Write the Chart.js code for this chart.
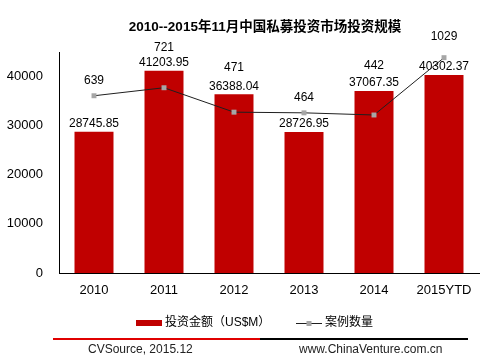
<!DOCTYPE html>
<html>
<head>
<meta charset="utf-8">
<script src="https://cdn.jsdelivr.net/npm/chart.js@4"></script>
<style>
  html, body { margin: 0; padding: 0; background: #fff; }
</style>
</head>
<body>
<canvas id="peChart" width="496" height="363"></canvas>
<script>
// data
const years = ['2010', '2011', '2012', '2013', '2014', '2015YTD'];
const amounts = [28745.85, 41203.95, 36388.04, 28726.95, 37067.35, 40302.37];
const dealCounts = [639, 721, 471, 464, 442, 1029];
const yTicks = [0, 10000, 20000, 30000, 40000];

// how far each count label sits above its marker (moved by hand in the original)
const countLift = [15, 40, 44, 15, 49, 21];

const FONT = '"Liberation Sans", Arial, "Noto Sans CJK SC", sans-serif';
Chart.defaults.font.family = FONT;
Chart.defaults.color = '#000';

const RED = '#C00000';
const LINE = '#1f1f1f';
const MARK = '#A6A6A6';

const extras = {
  id: 'extras',
  afterDatasetDraw(chart, args) {
    // bar values go under the line
    if (args.index !== 0) return;
    const ctx = chart.ctx;
    ctx.save();
    ctx.font = '12px ' + FONT;
    ctx.fillStyle = '#000';
    ctx.textAlign = 'center';
    ctx.textBaseline = 'middle';
    args.meta.data.forEach((bar, i) => {
      ctx.fillText(amounts[i].toFixed(2), bar.x, bar.y - 8);
    });
    ctx.restore();
  },
  afterDraw(chart) {
    const ctx = chart.ctx;
    ctx.save();
    ctx.textBaseline = 'middle';

    // count labels
    ctx.font = '12px ' + FONT;
    ctx.fillStyle = '#000';
    ctx.textAlign = 'center';
    chart.getDatasetMeta(1).data.forEach((pt, i) => {
      ctx.fillText(String(dealCounts[i]), pt.x, pt.y - countLift[i]);
    });

    // title
    ctx.font = 'bold 13.5px ' + FONT;
    ctx.fillText('2010--2015年11月中国私募投资市场投资规模', 265, 27);

    // legend
    ctx.textAlign = 'left';
    ctx.font = '12px ' + FONT;
    ctx.fillStyle = RED;
    ctx.fillRect(136, 320, 26, 6);
    ctx.fillStyle = '#000';
    ctx.fillText('投资金额（US$M）', 165, 323);

    ctx.strokeStyle = LINE;
    ctx.lineWidth = 1;
    ctx.beginPath();
    ctx.moveTo(296, 323.5);
    ctx.lineTo(322, 323.5);
    ctx.stroke();
    ctx.fillStyle = MARK;
    ctx.fillRect(306.5, 321, 5, 5);
    ctx.fillStyle = '#000';
    ctx.fillText('案例数量', 325, 323);

    // footer
    ctx.fillStyle = '#E00000';
    ctx.fillRect(53, 338, 207, 2);
    ctx.fillStyle = '#000';
    ctx.fillRect(260, 338, 208, 2);
    ctx.fillStyle = '#222';
    ctx.fillText('CVSource, 2015.12', 88, 350);
    ctx.fillText('www.ChinaVenture.com.cn', 299, 350);
    ctx.restore();
  }
};

new Chart(document.getElementById('peChart').getContext('2d'), {
  type: 'bar',
  data: {
    labels: years,
    datasets: [{
      type: 'bar',
      label: '投资金额（US$M）',
      data: amounts,
      backgroundColor: RED,
      barPercentage: 0.557,
      categoryPercentage: 1,
      yAxisID: 'y',
      order: 1
    }, {
      type: 'line',
      label: '案例数量',
      data: dealCounts,
      borderColor: LINE,
      borderWidth: 1,
      pointStyle: 'rect',
      pointRadius: 3.5,
      pointBackgroundColor: MARK,
      pointBorderWidth: 0,
      tension: 0,
      yAxisID: 'y1',
      order: 0
    }]
  },
  options: {
    responsive: false,
    animation: false,
    layout: { padding: { left: 0, right: 17, top: 52, bottom: 0 } },
    plugins: {
      legend: { display: false },
      title: { display: false },
      tooltip: { enabled: false }
    },
    scales: {
      x: {
        grid: { display: false },
        border: { color: '#000', width: 1 },
        ticks: { font: { size: 13 }, color: '#000', padding: 2 },
        afterFit(s) { s.height = 90; }
      },
      y: {
        min: 0,
        max: 45000,
        grid: { display: false, drawTicks: false },
        border: { color: '#000', width: 1 },
        ticks: { font: { size: 13 }, color: '#000', padding: 16, callback: v => String(v) },
        afterBuildTicks(s) { s.ticks = yTicks.map(v => ({ value: v })); },
        afterFit(s) { s.width = 59; }
      },
      y1: {
        display: false,
        min: -1176,
        max: 1087
      }
    }
  },
  plugins: [extras]
});
</script>
</body>
</html>
